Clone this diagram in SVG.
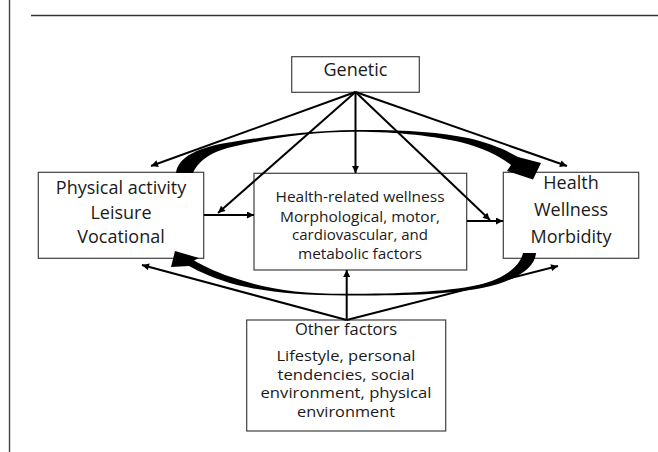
<svg xmlns="http://www.w3.org/2000/svg" width="658" height="452" viewBox="0 0 658 452">
<defs>
<style>
.box{fill:#fff;stroke:#404040;stroke-width:1.2}
.t{font-family:"Open Sans","Noto Sans",sans-serif;fill:#1a1a1a;text-anchor:middle}
.t18{font-size:18px}
.t15{font-size:14.8px}
.t16{font-size:16.5px}
.t155{font-size:15.3px}
.a{fill:none;stroke:#000;stroke-width:2;marker-end:url(#ah)}
.band{fill:#000;stroke:none}
</style>
<marker id="ah" viewBox="0 0 10 10" refX="10" refY="5" markerWidth="9" markerHeight="7" markerUnits="userSpaceOnUse" orient="auto">
<path d="M0,0 L10,5 L0,10 z" fill="#000"/>
</marker>
</defs>
<rect width="658" height="452" fill="#fff"/>
<g id="frame">
<line x1="31" y1="15.5" x2="658" y2="15.5" stroke="#333" stroke-width="1.4"/>
<line x1="9.5" y1="0" x2="9.5" y2="452" stroke="#444" stroke-width="1.4"/>
</g>
<g id="node-genetic">
<rect class="box" x="291.7" y="56.7" width="127.6" height="35.6"/>
<text class="t t18" x="355.5" y="76">Genetic</text>
</g>
<g id="node-activity">
<rect class="box" x="38.3" y="172.3" width="165.4" height="86"/>
<text class="t t18" x="121" y="194">Physical activity</text>
<text class="t t18" x="121" y="219">Leisure</text>
<text class="t t18" x="121" y="243">Vocational</text>
</g>
<g id="node-wellness">
<rect class="box" x="254" y="173.3" width="212.7" height="96.7"/>
<text class="t t15" x="360" y="202.3" textLength="169" lengthAdjust="spacingAndGlyphs">Health-related wellness</text>
<text class="t t15" x="360" y="221.5" textLength="160" lengthAdjust="spacingAndGlyphs">Morphological, motor,</text>
<text class="t t15" x="360" y="240.3" textLength="136" lengthAdjust="spacingAndGlyphs">cardiovascular, and</text>
<text class="t t15" x="360" y="259" textLength="124" lengthAdjust="spacingAndGlyphs">metabolic factors</text>
</g>
<g id="node-health">
<rect class="box" x="503.3" y="172.3" width="135.4" height="86"/>
<text class="t t18" x="571" y="189.3">Health</text>
<text class="t t18" x="571" y="216">Wellness</text>
<text class="t t18" x="571" y="243.3">Morbidity</text>
</g>
<g id="node-other">
<rect class="box" x="246.7" y="320" width="199" height="111"/>
<text class="t t16" x="346" y="335">Other factors</text>
<text class="t t155" x="346" y="361" textLength="139" lengthAdjust="spacingAndGlyphs">Lifestyle, personal</text>
<text class="t t155" x="346" y="379.6" textLength="137" lengthAdjust="spacingAndGlyphs">tendencies, social</text>
<text class="t t155" x="346" y="398.2" textLength="171" lengthAdjust="spacingAndGlyphs">environment, physical</text>
<text class="t t155" x="346" y="416.8" textLength="98" lengthAdjust="spacingAndGlyphs">environment</text>
</g>
<g id="connectors">
<path class="a" d="M355.5,92 L151,166"/>
<path class="a" d="M355.5,92 L218,213"/>
<path class="a" d="M355.5,92 L355.5,173"/>
<path class="a" d="M355.5,92 L490,220"/>
<path class="a" d="M355.5,92 L567,166"/>
<path class="a" d="M346.7,320 L142,265"/>
<path class="a" d="M346.7,320 L346.7,270"/>
<path class="a" d="M346.7,320 L558,266"/>
<path class="a" d="M204,215 L254,215"/>
<path class="a" d="M467,221 L503,221"/>
<path class="band" d="M176,173 C178,157 198,147 232,142 C270,136 310,130.5 355,130 C400,129.5 440,132 468,138 C490,143 506,150 518,157 L541,163 L533,179.5 L507,171 L511,165 C497,154 482,148 462,142.5 C435,136.5 400,131.8 355,131.8 C310,132 272,138 236,146 C212,151 199,160 193,173 Z"/>
<path class="band" d="M536,253 C535,268 516,281 482,288 C446,295 400,295.5 346,295.5 C300,295.5 266,292 237,285 C215,279 200,272 189,266 L171,267 L175,251 L199,258 L194,260.5 C206,267 220,274 239,279.5 C268,289 300,293.8 346,293.8 C400,293.8 444,292 478,285 C506,278 520,266 523,253 Z"/>
</g>
</svg>
